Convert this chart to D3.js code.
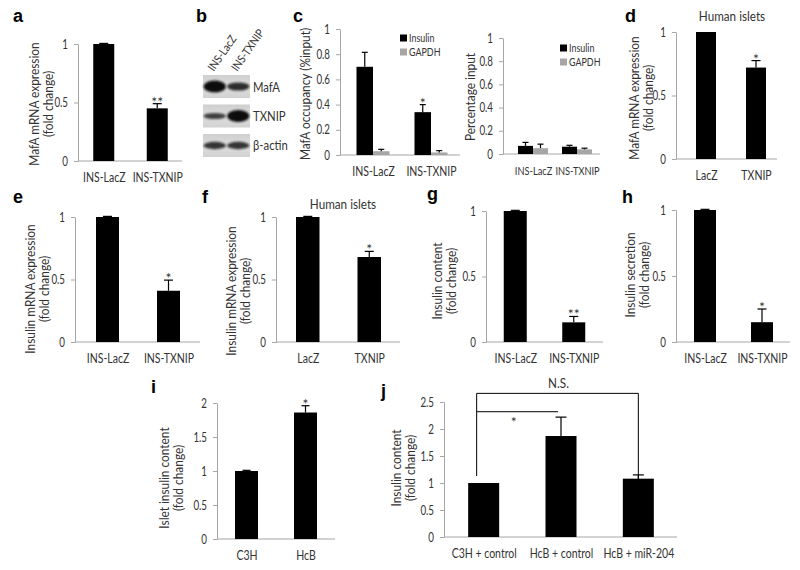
<!DOCTYPE html>
<html><head><meta charset="utf-8">
<script src="https://cdn.jsdelivr.net/npm/d3@7"></script>
<style>body{margin:0;background:#fff} svg{display:block}</style>
</head><body><script>
// ---------- DATA ----------
const catsINS = ["INS-LacZ", "INS-TXNIP"];
const catsHuman = ["LacZ", "TXNIP"];
const ticksHalf = [0, 0.5, 1];
const ticksFifth = [0, 0.2, 0.4, 0.6, 0.8, 1];
const ticksTwo = [0, 0.5, 1, 1.5, 2];
const ticksTwoHalf = [0, 0.5, 1, 1.5, 2, 2.5];

// a
const mafaMRNA = [1.0, 0.45];
const mafaMRNAErr = [0.005, 0.04];
const mafaMRNASig = ["", "**"];
// b (western blot band intensities, relative)
const blotProteins = ["MafA", "TXNIP", "β-actin"];
const blotLanes = ["INS-LacZ", "INS-TXNIP"];
const blotLacZ = [1.0, 0.3, 0.45];
const blotTXNIP = [0.55, 1.0, 0.45];
// c
const chipSeries = ["Insulin", "GAPDH"];
const chipInsulin = [0.70, 0.34];
const chipInsulinErr = [0.115, 0.06];
const chipGAPDH = [0.03, 0.02];
const chipGAPDHErr = [0.015, 0.015];
const chipSig = ["", "*"];
const pctInsulin = [0.07, 0.063];
const pctInsulinErr = [0.03, 0.012];
const pctGAPDH = [0.05, 0.04];
const pctGAPDHErr = [0.035, 0.01];
// d
const humanMafA = [1.0, 0.72];
const humanMafAErr = [0, 0.055];
const humanMafASig = ["", "*"];
// e
const insMRNA = [1.0, 0.41];
const insMRNAErr = [0.005, 0.085];
const insMRNASig = ["", "*"];
// f
const humanIns = [1.0, 0.68];
const humanInsErr = [0.005, 0.045];
const humanInsSig = ["", "*"];
// g
const insContent = [1.0, 0.15];
const insContentErr = [0.005, 0.045];
const insContentSig = ["", "**"];
// h
const insSecretion = [1.0, 0.15];
const insSecretionErr = [0.005, 0.10];
const insSecretionSig = ["", "*"];
// i
const isletCats = ["C3H", "HcB"];
const isletContent = [1.0, 1.86];
const isletContentErr = [0.01, 0.10];
const isletSig = ["", "*"];
// j
const jCats = ["C3H + control", "HcB + control", "HcB + miR-204"];
const jContent = [1.0, 1.87, 1.08];
const jContentErr = [0, 0.35, 0.07];
const jBrackets = [
  {from: 0, to: 1, level: 2.32, label: "*"},
  {from: 0, to: 2, level: 2.66, label: "N.S."}
];

// ---------- DRAWING ----------
const FONT = "Lato, 'Noto Sans', sans-serif";
const AXC = "#a6a6a6";
const TXT = "#333";
const svg = d3.select("body").append("svg").attr("width", 800).attr("height", 570);

// narrow the glyphs a little (the original uses a condensed face)
function condense(sel, f) {
  sel.each(function () {
    const L = this.getComputedTextLength();
    if (L > 0) d3.select(this).attr("textLength", L * f).attr("lengthAdjust", "spacingAndGlyphs");
  });
}

function panel(o) {
  const g = svg.append("g");
  const y = d3.scaleLinear().domain([0, o.max]).range([o.y0, o.y1]);
  const x = d3.scalePoint().domain(o.cats).range(o.xr).padding(0.5);

  const ya = g.append("g").attr("transform", `translate(${o.ax},0)`)
    .call(d3.axisLeft(y).tickValues(o.ticks).tickFormat(d => String(d))
      .tickSize(4).tickSizeOuter(0).tickPadding(6));
  ya.select(".domain").attr("stroke", AXC);
  ya.selectAll(".tick line").attr("stroke", AXC);
  ya.selectAll(".tick text").attr("font-family", FONT).attr("font-size", 12.5).attr("fill", TXT)
    .call(condense, 0.78);

  g.append("line").attr("x1", o.ax).attr("x2", o.ae).attr("y1", o.y0).attr("y2", o.y0)
    .attr("stroke", AXC);

  const xa = g.append("g").attr("transform", `translate(0,${o.y0})`)
    .call(d3.axisBottom(x).tickSize(0));
  xa.select(".domain").remove();
  xa.selectAll(".tick text").attr("y", 21).attr("dy", 0)
    .attr("font-family", FONT).attr("font-size", o.catSize || 12.5).attr("fill", TXT)
    .call(condense, 0.84);

  const n = o.series.length;
  o.series.forEach((s, si) => {
    const off = (si - n / 2) * o.bw;
    const idx = o.cats.map((c, i) => i);
    g.selectAll(null).data(idx).join("rect")
      .attr("x", i => x(o.cats[i]) + off)
      .attr("y", i => y(s.v[i]))
      .attr("width", o.bw)
      .attr("height", i => y(0) - y(s.v[i]))
      .attr("fill", s.c);
    const cx = i => x(o.cats[i]) + off + o.bw / 2;
    const withErr = idx.filter(i => s.e[i] > 0);
    g.selectAll(null).data(withErr).join("line")
      .attr("x1", cx).attr("x2", cx)
      .attr("y1", i => y(s.v[i])).attr("y2", i => y(s.v[i] + s.e[i]))
      .attr("stroke", "#000").attr("stroke-width", 1.2);
    g.selectAll(null).data(withErr).join("line")
      .attr("x1", i => cx(i) - o.cap / 2).attr("x2", i => cx(i) + o.cap / 2)
      .attr("y1", i => y(s.v[i] + s.e[i])).attr("y2", i => y(s.v[i] + s.e[i]))
      .attr("stroke", "#000").attr("stroke-width", 1.2);
    if (si === 0 && o.sig) {
      g.selectAll(null).data(idx.filter(i => o.sig[i])).join("text")
        .attr("x", cx).attr("y", i => y(s.v[i] + s.e[i]) + 3)
        .attr("text-anchor", "middle").attr("font-family", FONT).attr("font-size", 14)
        .attr("fill", TXT).text(i => o.sig[i]);
    }
  });

  o.title.forEach((t, k) => {
    g.append("text").attr("transform", `translate(${o.tx[k]},${o.ty}) rotate(-90)`)
      .attr("text-anchor", "middle").attr("dominant-baseline", "central")
      .attr("font-family", FONT).attr("font-size", 12.5).attr("fill", TXT).text(t)
      .call(condense, 0.95);
  });

  if (o.header) {
    g.append("text").attr("x", o.header.x).attr("y", o.header.y).attr("text-anchor", "middle")
      .attr("font-family", FONT).attr("font-size", 13).attr("fill", TXT).text(o.header.text)
      .call(condense, 0.9);
  }

  if (o.legend) {
    o.series.forEach((s, si) => {
      g.append("rect").attr("x", o.legend.x).attr("y", o.legend.y[si] - 3.5)
        .attr("width", 7).attr("height", 7).attr("fill", s.c);
      g.append("text").attr("x", o.legend.x + 9).attr("y", o.legend.y[si])
        .attr("dominant-baseline", "central").attr("font-family", FONT).attr("font-size", 10.5)
        .attr("fill", TXT).text(s.name).call(condense, 0.85);
    });
  }
  return {g, x, y};
}

function letter(t, x, y) {
  svg.append("text").attr("x", x).attr("y", y).attr("font-family", "'Liberation Sans', Arial, sans-serif")
    .attr("font-weight", "bold").attr("font-size", 18).attr("fill", "#000").text(t);
}

// a
panel({cats: catsINS, series: [{v: mafaMRNA, e: mafaMRNAErr, c: "#000"}], sig: mafaMRNASig,
  ax: 78, ae: 182, xr: [77, 184], y0: 161, y1: 44, max: 1, ticks: ticksHalf, bw: 21, cap: 9,
  title: ["MafA mRNA expression", "(fold change)"], tx: [34, 48.5], ty: 104});

// b - western blot
(function () {
  const defs = svg.append("defs");
  defs.append("filter").attr("id", "blur").attr("x", "-30%").attr("y", "-80%")
    .attr("width", "160%").attr("height", "260%")
    .append("feGaussianBlur").attr("stdDeviation", 1.3);
  const grad = defs.append("linearGradient").attr("id", "mem").attr("x1", 0).attr("x2", 0).attr("y1", 0).attr("y2", 1);
  grad.append("stop").attr("offset", 0).attr("stop-color", "#cfcfcf");
  grad.append("stop").attr("offset", 0.5).attr("stop-color", "#dedede");
  grad.append("stop").attr("offset", 1).attr("stop-color", "#d2d2d2");

  const rowY = d3.scaleBand().domain(blotProteins).range([75, 157]).paddingInner(0.22);
  const laneX = d3.scaleBand().domain(blotLanes).range([203, 250]);
  const g = svg.append("g");
  g.selectAll(null).data(blotProteins).join("rect")
    .attr("x", laneX.range()[0]).attr("width", laneX.range()[1] - laneX.range()[0])
    .attr("y", d => rowY(d)).attr("height", rowY.bandwidth()).attr("fill", "url(#mem)");
  const bands = [];
  blotProteins.forEach((p, i) => {
    bands.push({p, lane: blotLanes[0], v: blotLacZ[i]});
    bands.push({p, lane: blotLanes[1], v: blotTXNIP[i]});
  });
  g.selectAll(null).data(bands).join("ellipse")
    .attr("cx", d => laneX(d.lane) + laneX.bandwidth() / 2)
    .attr("cy", d => rowY(d.p) + rowY.bandwidth() / 2)
    .attr("rx", laneX.bandwidth() / 2 - 0.5)
    .attr("ry", d => 1.8 + 4.2 * d.v)
    .attr("fill", "#111").attr("opacity", d => 0.65 + 0.35 * d.v)
    .attr("filter", "url(#blur)");
  g.selectAll(null).data(blotProteins).join("text")
    .attr("x", 253).attr("y", d => rowY(d) + rowY.bandwidth() / 2)
    .attr("dominant-baseline", "central").attr("font-family", FONT).attr("font-size", 13)
    .attr("fill", TXT).text(d => d).call(condense, 0.87);
  g.selectAll(null).data(blotLanes).join("text")
    .attr("transform", d => `translate(${laneX(d) + laneX.bandwidth() / 2 - 1},72) rotate(-55)`)
    .attr("font-family", FONT).attr("font-size", 11.5).attr("fill", TXT).text(d => d)
    .call(condense, 0.87);
})();

// c left
panel({cats: catsINS,
  series: [{name: chipSeries[0], v: chipInsulin, e: chipInsulinErr, c: "#000"},
           {name: chipSeries[1], v: chipGAPDH, e: chipGAPDHErr, c: "#a6a6a6"}],
  sig: chipSig, ax: 340, ae: 460, xr: [344, 460], y0: 155, y1: 29, max: 1, ticks: ticksFifth,
  bw: 16.5, cap: 6, title: ["MafA occupancy (%input)"], tx: [305], ty: 94,
  legend: {x: 400, y: [38, 52]}});

// c right
panel({cats: catsINS,
  series: [{name: chipSeries[0], v: pctInsulin, e: pctInsulinErr, c: "#000"},
           {name: chipSeries[1], v: pctGAPDH, e: pctGAPDHErr, c: "#a6a6a6"}],
  ax: 503, ae: 600, xr: [511, 599], y0: 154, y1: 38, max: 1, ticks: ticksFifth, catSize: 11,
  bw: 15, cap: 6, title: ["Percentage input"], tx: [470], ty: 97,
  legend: {x: 560, y: [48, 62]}});

// d
panel({cats: catsHuman, series: [{v: humanMafA, e: humanMafAErr, c: "#000"}], sig: humanMafASig,
  ax: 676, ae: 777, xr: [681, 781], y0: 159, y1: 32, max: 1, ticks: ticksHalf, bw: 20, cap: 9,
  title: ["MafA mRNA expression", "(fold change)"], tx: [634, 648], ty: 98,
  header: {text: "Human islets", x: 732, y: 21}});

// e
panel({cats: catsINS, series: [{v: insMRNA, e: insMRNAErr, c: "#000"}], sig: insMRNASig,
  ax: 75, ae: 200, xr: [77, 199], y0: 342, y1: 217, max: 1, ticks: ticksHalf, bw: 23, cap: 9,
  title: ["Insulin mRNA expression", "(fold change)"], tx: [30, 44.5], ty: 289});

// f
panel({cats: catsHuman, series: [{v: humanIns, e: humanInsErr, c: "#000"}], sig: humanInsSig,
  ax: 276, ae: 400, xr: [277, 400], y0: 342, y1: 217, max: 1, ticks: ticksHalf, bw: 23.5, cap: 9,
  title: ["Insulin mRNA expression", "(fold change)"], tx: [231, 245], ty: 291,
  header: {text: "Human islets", x: 343, y: 209}});

// g
panel({cats: catsINS, series: [{v: insContent, e: insContentErr, c: "#000"}], sig: insContentSig,
  ax: 486, ae: 603, xr: [486, 603], y0: 342, y1: 211, max: 1, ticks: ticksHalf, bw: 23, cap: 9,
  title: ["Insulin content", "(fold change)"], tx: [437, 451], ty: 281});

// h
panel({cats: catsINS, series: [{v: insSecretion, e: insSecretionErr, c: "#000"}], sig: insSecretionSig,
  ax: 676, ae: 790, xr: [676.5, 790.5], y0: 342, y1: 210, max: 1, ticks: ticksHalf, bw: 22, cap: 9,
  title: ["Insulin secretion", "(fold change)"], tx: [630, 644], ty: 275});

// i
panel({cats: isletCats, series: [{v: isletContent, e: isletContentErr, c: "#000"}], sig: isletSig,
  ax: 217, ae: 335, xr: [217, 335], y0: 539, y1: 403, max: 2, ticks: ticksTwo, bw: 23, cap: 8,
  title: ["Islet insulin content", "(fold change)"], tx: [164, 178], ty: 478});

// j
const pj = panel({cats: jCats, series: [{v: jContent, e: jContentErr, c: "#000"}],
  ax: 444, ae: 677, xr: [445, 677], y0: 537, y1: 402, max: 2.5, ticks: ticksTwoHalf, bw: 31, cap: 11,
  title: ["Insulin content", "(fold change)"], tx: [396, 410], ty: 468});
(function () {
  const {g, x, y} = pj;
  const leftX = x(jCats[0]) - 7;
  const b0 = jBrackets[0], b1 = jBrackets[1];
  const top0 = y(jContent[0]) - 7;
  const path = d3.path();
  path.moveTo(leftX, top0);
  path.lineTo(leftX, y(b1.level));
  path.lineTo(x(jCats[b1.to]), y(b1.level));
  path.lineTo(x(jCats[b1.to]), y(jContent[2] + jContentErr[2]) + 5);
  path.moveTo(leftX, y(b0.level));
  path.lineTo(x(jCats[b0.to]) - 3, y(b0.level));
  g.append("path").attr("d", path.toString()).attr("fill", "none").attr("stroke", "#000").attr("stroke-width", 1);
  g.append("text").attr("x", (leftX + x(jCats[b0.to])) / 2 - 5).attr("y", y(b0.level) + 15)
    .attr("text-anchor", "middle").attr("font-family", FONT).attr("font-size", 14).attr("fill", TXT).text(b0.label);
  g.append("text").attr("x", (leftX + x(jCats[b1.to])) / 2 + 1).attr("y", y(b1.level) - 5)
    .attr("text-anchor", "middle").attr("font-family", FONT).attr("font-size", 13).attr("fill", TXT).text(b1.label)
    .call(condense, 0.9);
})();

// panel letters
letter("a", 13, 22);
letter("b", 196, 22);
letter("c", 293, 22);
letter("d", 625, 22);
letter("e", 13, 203);
letter("f", 202, 203);
letter("g", 427, 200);
letter("h", 622, 203);
letter("i", 151, 393);
letter("j", 381, 397);
</script></body></html>
